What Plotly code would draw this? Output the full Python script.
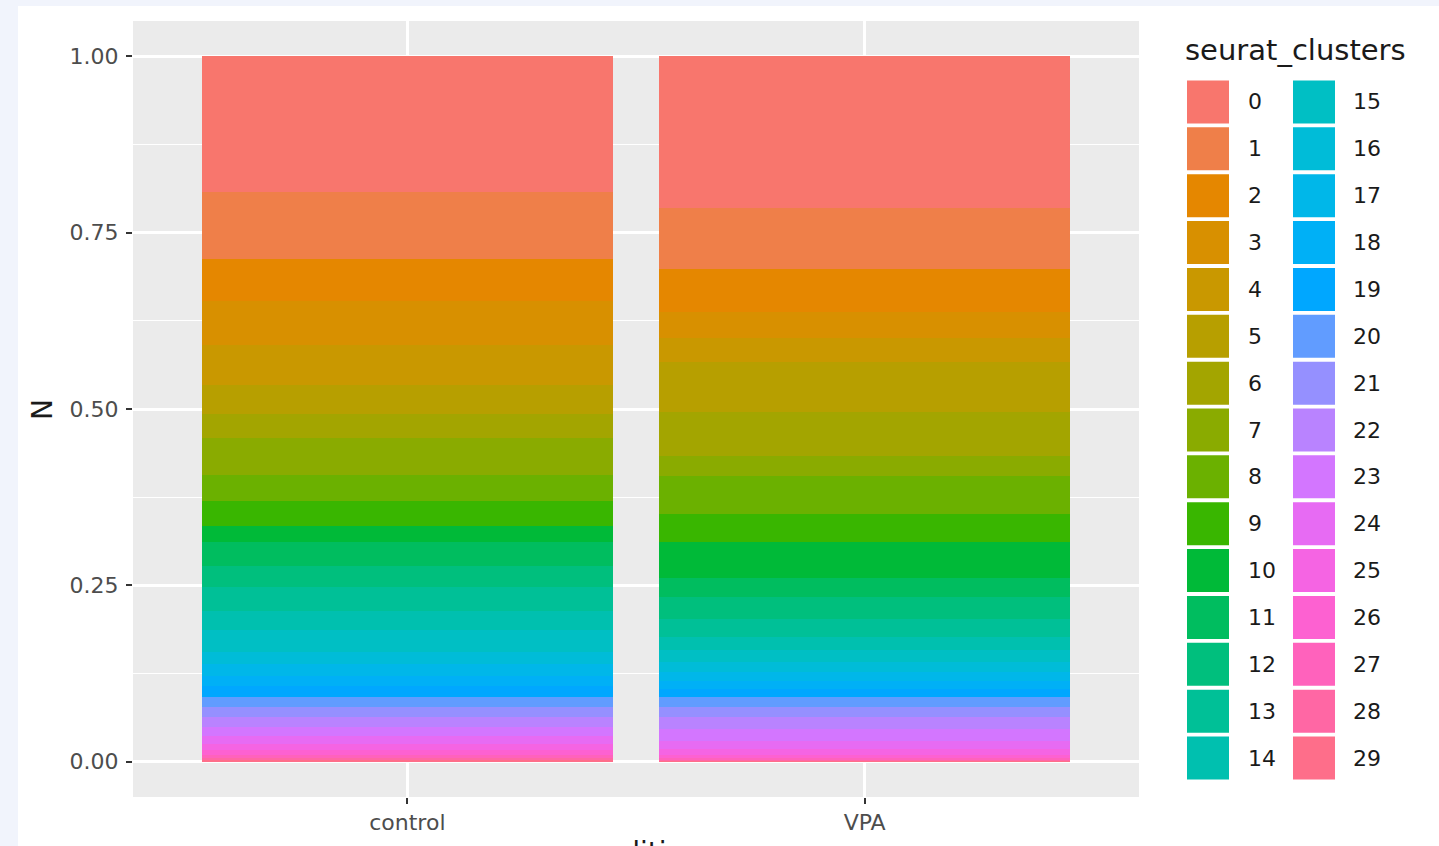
import math
import plotly.graph_objects as go

# ---------------- data ----------------
conditions = ["control", "VPA"]
clusters = [str(i) for i in range(30)]

control_prop = [0.193, 0.0945, 0.059, 0.0623, 0.0571, 0.0411, 0.0344, 0.052, 0.0368, 0.035,
                0.0235, 0.0331, 0.0306, 0.0331, 0.0283, 0.0302, 0.017, 0.017, 0.0142, 0.0156,
                0.0142, 0.0142, 0.0142, 0.0127, 0.0113, 0.0085, 0.0071, 0.0042, 0.0028, 0.0028]
vpa_prop = [0.2157, 0.086, 0.0613, 0.0368, 0.034, 0.07, 0.0623, 0.0292, 0.0534, 0.0401,
            0.051, 0.0269, 0.0307, 0.0255, 0.0184, 0.017, 0.0142, 0.0127, 0.0113, 0.0113,
            0.0142, 0.0142, 0.017, 0.017, 0.0113, 0.0085, 0.0042, 0.0028, 0.0014, 0.0014]

y_tickvals = [0, 0.25, 0.5, 0.75, 1.0]
y_ticktext = ["0.00", "0.25", "0.50", "0.75", "1.00"]


# ---------------- colours (ggplot2 hue palette) ----------------
def hcl_hex(h, c=100.0, l=65.0):
    hr = math.radians(h)
    u = c * math.cos(hr)
    v = c * math.sin(hr)
    Xn, Yn, Zn = 95.047, 100.0, 108.883
    Y = Yn * ((l + 16) / 116) ** 3 if l > 8 else Yn * l / 903.3
    den = Xn + 15 * Yn + 3 * Zn
    un, vn = 4 * Xn / den, 9 * Yn / den
    up = u / (13 * l) + un
    vp = v / (13 * l) + vn
    X = 9 * Y * up / (4 * vp)
    Z = Y * (12 - 3 * up - 20 * vp) / (4 * vp)
    x, y, z = X / 100, Y / 100, Z / 100
    r = 3.240479 * x - 1.537150 * y - 0.498535 * z
    g = -0.969256 * x + 1.875992 * y + 0.041556 * z
    b = 0.055648 * x - 0.204043 * y + 1.057311 * z

    def gam(t):
        t = 12.92 * t if t <= 0.0031308 else 1.055 * t ** (1 / 2.4) - 0.055
        return max(0, min(255, int(round(t * 255))))

    return "#%02X%02X%02X" % (gam(r), gam(g), gam(b))


colors = [hcl_hex(15 + 12 * k) for k in range(30)]

# ---------------- figure ----------------
fig = go.Figure()
for i in reversed(range(30)):
    fig.add_trace(go.Bar(
        x=conditions, y=[control_prop[i], vpa_prop[i]], name=clusters[i],
        marker=dict(color=colors[i], line=dict(width=0)), width=0.9,
        showlegend=False,
    ))

W, H = 1439, 846
PL, PR, PT, PB = 133, 1139, 21, 797


def px_x(p):
    return (p - PL) / (PR - PL)


def px_y(p):
    return (PB - p) / (PB - PT)


FONT = "DejaVu Sans"
shapes = []
annotations = []

# outer lavender strips
shapes.append(dict(type="rect", xref="paper", yref="paper", x0=px_x(0), x1=px_x(18),
                   y0=px_y(H), y1=px_y(0), fillcolor="#F1F4FC", line=dict(width=0), layer="below"))
shapes.append(dict(type="rect", xref="paper", yref="paper", x0=px_x(0), x1=px_x(W),
                   y0=px_y(6), y1=px_y(0), fillcolor="#F1F4FC", line=dict(width=0), layer="below"))

# custom two-column legend
annotations.append(dict(text="seurat_clusters", xref="paper", yref="paper",
                        x=px_x(1183), y=px_y(50), xanchor="left", yanchor="middle",
                        showarrow=False, font=dict(family=FONT, size=29, color="#1A1A1A")))
pitch = (758 - 102) / 14
for i in range(30):
    col, row = divmod(i, 15)
    cy = 102 + row * pitch
    kx0 = 1187 + col * 106
    shapes.append(dict(type="rect", xref="paper", yref="paper",
                       x0=px_x(kx0), x1=px_x(kx0 + 42),
                       y0=px_y(cy + 21.5), y1=px_y(cy - 21.5),
                       fillcolor=colors[i], line=dict(width=0)))
    annotations.append(dict(text=clusters[i], xref="paper", yref="paper",
                            x=px_x(1246 + col * 105), y=px_y(cy), xanchor="left",
                            yanchor="middle", showarrow=False,
                            font=dict(family=FONT, size=22, color="#1A1A1A")))

# axis titles
annotations.append(dict(text="N", xref="paper", yref="paper", x=px_x(42), y=px_y(410),
                        xanchor="center", yanchor="middle", textangle=-90, showarrow=False,
                        font=dict(family=FONT, size=28, color="#1A1A1A")))
annotations.append(dict(text="condition", xref="paper", yref="paper", x=px_x(636), y=px_y(834),
                        xanchor="center", yanchor="top", showarrow=False,
                        font=dict(family=FONT, size=28, color="#1A1A1A")))

fig.update_layout(
    width=W, height=H,
    barmode="stack", barnorm="fraction",
    paper_bgcolor="white", plot_bgcolor="#EBEBEB",
    margin=dict(l=PL, r=W - PR, t=PT, b=H - PB, autoexpand=False),
    showlegend=False,
    font=dict(family=FONT),
    shapes=shapes, annotations=annotations,
    xaxis=dict(type="category", range=[-0.6, 1.6], showgrid=True, gridcolor="white",
               gridwidth=2.5, ticks="outside", ticklen=6, tickwidth=2, tickcolor="#333333",
               tickfont=dict(family=FONT, size=22, color="#4D4D4D"), showline=False,
               zeroline=False),
    yaxis=dict(range=[-0.05, 1.05], tickvals=y_tickvals, ticktext=y_ticktext,
               showgrid=True, gridcolor="white", gridwidth=2.5, ticks="outside",
               ticklen=6, tickwidth=2, tickcolor="#333333", ticklabelstandoff=3,
               tickfont=dict(family=FONT, size=22, color="#4D4D4D"), showline=False,
               zeroline=False,
               minor=dict(tickmode="array", tickvals=[0.125, 0.375, 0.625, 0.875],
                          showgrid=True, gridcolor="white", gridwidth=1.2, ticks="")),
)

fig.write_html(
    "out.html",
    config={"displayModeBar": False},
    post_script="document.body.style.margin='0';document.body.style.overflow='hidden';",
)
